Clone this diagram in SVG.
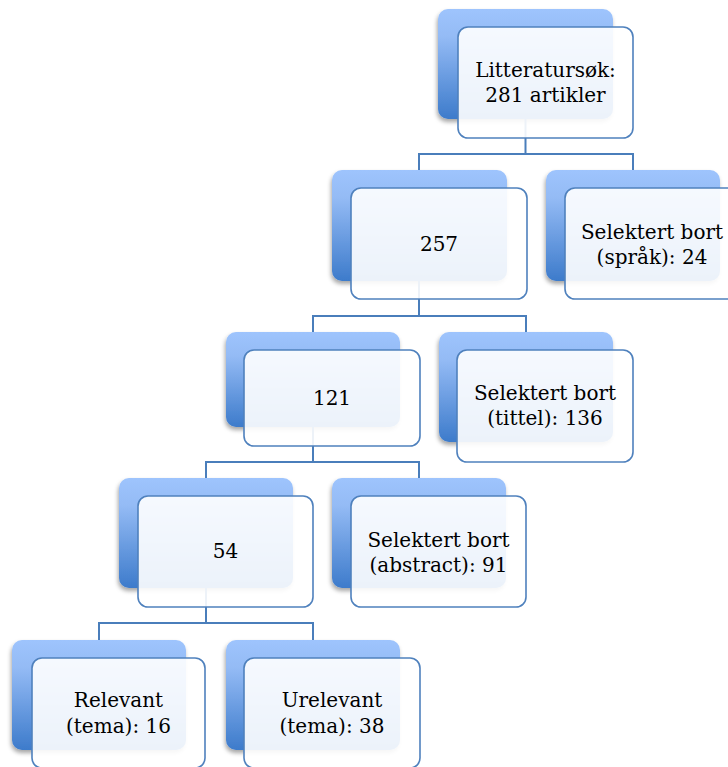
<svg xmlns="http://www.w3.org/2000/svg" width="728" height="767" viewBox="0 0 728 767">
  <defs>
    <linearGradient id="bg" x1="0" y1="0" x2="0" y2="1">
      <stop offset="0" stop-color="#9ec4fd"/>
      <stop offset="0.25" stop-color="#94bbf5"/>
      <stop offset="1" stop-color="#3d7bcb"/>
    </linearGradient>
    <filter id="sh" x="-10%" y="-10%" width="120%" height="130%">
      <feDropShadow dx="-1" dy="3" stdDeviation="2" flood-color="#000" flood-opacity="0.35"/>
    </filter>
  </defs>
  <style>
    .back { fill: url(#bg); filter: url(#sh); }
    .front { fill: #ffffff; fill-opacity: 0.9; stroke: #4f81bd; stroke-width: 1.6; }
    .conn { fill: none; stroke: #4a7ebb; stroke-width: 2; }
    text { font-family: "DejaVu Serif", "Liberation Serif", serif; font-size: 20px; fill: #000; text-anchor: middle; }
  </style>
  <rect width="728" height="767" fill="#ffffff"/>

  <!-- back boxes -->
  <g id="backs">
    <rect class="back" x="438" y="9" width="175" height="110" rx="10"/>
    <rect class="back" x="332" y="170" width="175" height="111" rx="10"/>
    <rect class="back" x="546" y="170" width="174" height="111" rx="10"/>
    <rect class="back" x="226" y="332" width="174" height="95" rx="10"/>
    <rect class="back" x="439" y="332" width="174" height="110" rx="10"/>
    <rect class="back" x="119" y="478" width="174" height="110" rx="10"/>
    <rect class="back" x="332" y="478" width="174" height="110" rx="10"/>
    <rect class="back" x="12" y="640" width="174" height="110" rx="10"/>
    <rect class="back" x="226" y="640" width="174" height="110" rx="10"/>
  </g>

  <g id="connectors">
    <path class="conn" d="M525.5 119 V154 M419 170 V154 H633 V170"/>
    <path class="conn" d="M419 281 V316 M313 332 V316 H526 V332"/>
    <path class="conn" d="M313 427 V462 M206 478 V462 H419 V478"/>
    <path class="conn" d="M206 588 V623 M99 640 V623 H313 V640"/>
  </g>

  <g id="n-litteratur">
    <rect class="front" x="458" y="27" width="175" height="111" rx="10"/>
    <text x="545.5" y="77">Litteratursøk:</text>
    <text x="545.5" y="102">281 artikler</text>
  </g>
  <g id="n-257">
    <rect class="front" x="351" y="188" width="176" height="111" rx="10"/>
    <text x="439" y="251">257</text>
  </g>
  <g id="n-sprak">
    <rect class="front" x="565" y="188" width="176" height="111" rx="10"/>
    <text x="652" y="239">Selektert bort</text>
    <text x="652" y="264">(språk): 24</text>
  </g>
  <g id="n-121">
    <rect class="front" x="244" y="350" width="176" height="96" rx="10"/>
    <text x="332" y="405">121</text>
  </g>
  <g id="n-tittel">
    <rect class="front" x="457" y="350" width="176" height="112" rx="10"/>
    <text x="545" y="400">Selektert bort</text>
    <text x="545" y="425">(tittel): 136</text>
  </g>
  <g id="n-54">
    <rect class="front" x="138" y="496" width="175" height="111" rx="10"/>
    <text x="225.5" y="558">54</text>
  </g>
  <g id="n-abstract">
    <rect class="front" x="351" y="496" width="175" height="111" rx="10"/>
    <text x="438.5" y="547">Selektert bort</text>
    <text x="438.5" y="572">(abstract): 91</text>
  </g>
  <g id="n-relevant">
    <rect class="front" x="32" y="658" width="173" height="110" rx="10"/>
    <text x="118.5" y="707">Relevant</text>
    <text x="118.5" y="733">(tema): 16</text>
  </g>
  <g id="n-urelevant">
    <rect class="front" x="244" y="658" width="176" height="110" rx="10"/>
    <text x="332" y="707">Urelevant</text>
    <text x="332" y="733">(tema): 38</text>
  </g>
</svg>
